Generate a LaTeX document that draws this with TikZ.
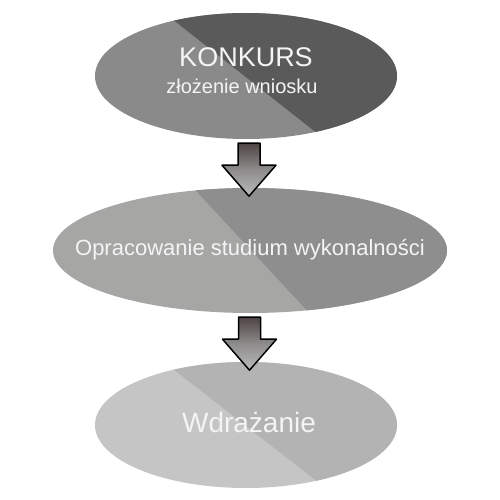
\documentclass[tikz,border=0pt]{standalone}
\usepackage{fontspec}
\setmainfont{Liberation Sans}
\usetikzlibrary{shapes.geometric,calc}
\definecolor{eOneL}{HTML}{8A8A8A}
\definecolor{eOneR}{HTML}{5A5A5A}
\definecolor{eTwoL}{HTML}{A6A6A5}
\definecolor{eTwoR}{HTML}{8E8E8E}
\definecolor{eThrL}{HTML}{C5C5C5}
\definecolor{eThrR}{HTML}{B3B3B3}
\definecolor{txtW}{HTML}{F4F4F4}
\pgfdeclareverticalshading{arrowshade}{100bp}{
  color(0bp)=(black!20!gray!40!white!75!black);
  color(40bp)=(black!20!gray!40!white!75!black);
  color(58bp)=(black!45);
  color(60bp)=(black!45);
  color(80bp)=(black!60!brown!20);
  color(100bp)=(black!60!brown!20)}
\definecolor{shTop}{HTML}{4F4444}
\definecolor{shMid}{HTML}{8E8C8C}
\definecolor{shBot}{HTML}{BCBCBC}
\pgfdeclareverticalshading{arrowfill}{100bp}{
  color(0bp)=(shBot);
  color(25bp)=(shBot);
  color(50bp)=(shMid);
  color(75bp)=(shTop);
  color(100bp)=(shTop)}
\tikzset{
  ellbox/.style={ellipse, inner sep=0pt, minimum width=302pt, minimum height=126pt},
  widebox/.style={ellipse, inner sep=0pt, minimum width=394pt, minimum height=125pt},
  lbl/.style={text=txtW, anchor=base, inner sep=0pt},
  blockarrow/.style={draw=black, line width=1.5pt, line join=round, shading=arrowfill}
}
\begin{document}
\begin{tikzpicture}[x=1pt,y=-1pt]
\path[use as bounding box] (0,0) rectangle (500,500);
% ellipse 1
\begin{scope}
\clip (246,76) ellipse [x radius=151, y radius=63];
\fill[eOneL] (90,10) rectangle (400,145);
\fill[eOneR] (148,0) -- (420,0) -- (420,160) -- (351,160) -- cycle;
\end{scope}
\node[ellbox] (e1) at (246,76) {};
% ellipse 2
\begin{scope}
\clip (250,250.5) ellipse [x radius=197, y radius=62.5];
\fill[eTwoL] (50,185) rectangle (450,316);
\fill[eTwoR] (186,180) -- (460,180) -- (460,330) -- (325,330) -- cycle;
\end{scope}
\node[widebox] (e2) at (250,250.5) {};
% ellipse 3
\begin{scope}
\clip (246,425) ellipse [x radius=151, y radius=63];
\fill[eThrL] (90,360) rectangle (400,490);
\fill[eThrR] (155,355) -- (420,355) -- (420,500) -- (341,500) -- cycle;
\end{scope}
\node[ellbox] (e3) at (246,425) {};
% labels
\node[lbl, font=\fontsize{27}{30}\selectfont] (t1) at (246,67) {KONKURS};
\node[lbl, font=\fontsize{20}{24}\selectfont] (t2) at (242,94) {złożenie wniosku};
\node[lbl, font=\fontsize{22}{26}\selectfont] (t3) at (250,255) {Opracowanie studium wykonalności};
\node[lbl, font=\fontsize{28}{32}\selectfont] (t4) at (249,432) {Wdrażanie};
% arrows
\coordinate (a1) at ($(e1.south)+(3,4)$);
\coordinate (a2) at ($(e2.south)+(-0.5,4)$);
\draw[blockarrow] (a1) ++(-11,0) -- ++(22,0) -- ++(0,22) -- ++(16,0) -- ++(-27,31) -- ++(-27,-31) -- ++(16,0) -- cycle;
\draw[blockarrow] (a2) ++(-11,0) -- ++(22,0) -- ++(0,22) -- ++(16,0) -- ++(-27,31) -- ++(-27,-31) -- ++(16,0) -- cycle;
\end{tikzpicture}
\end{document}
